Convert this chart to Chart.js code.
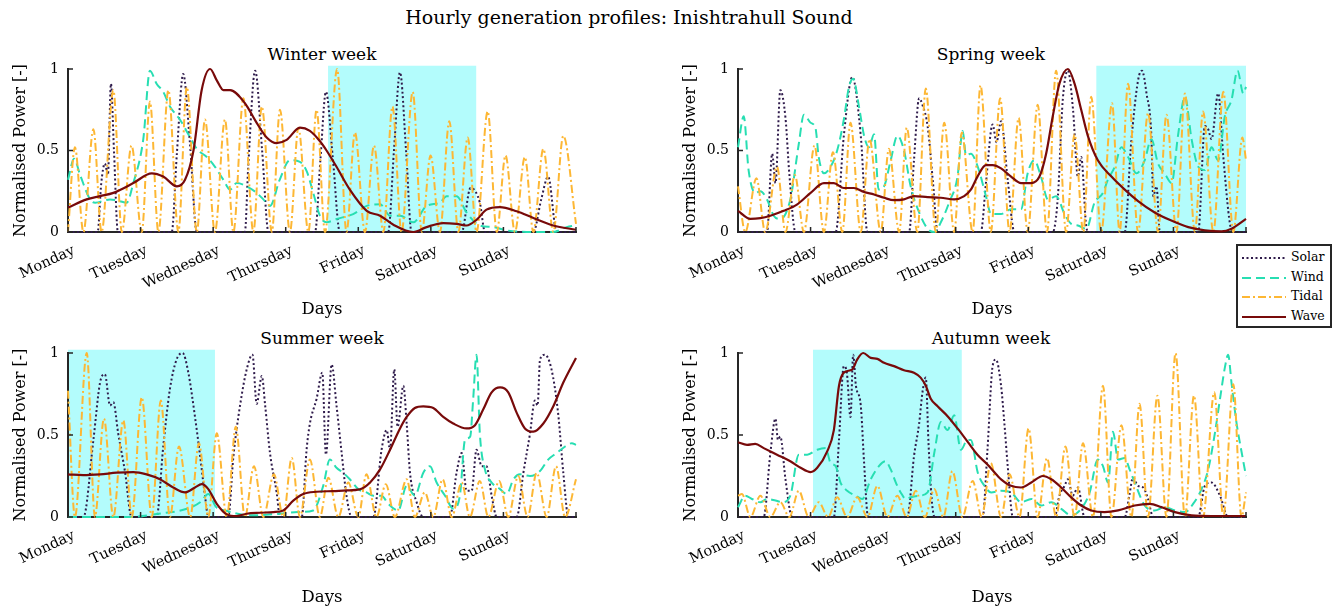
<!DOCTYPE html>
<html>
<head>
<meta charset="utf-8">
<title>Hourly generation profiles: Inishtrahull Sound</title>
<script src="https://cdn.jsdelivr.net/npm/chart.js@4"></script>
<style>
  body { margin: 0; background: #fff; font-family: "DejaVu Serif", serif; color: #000; }
  #page { position: relative; width: 1341px; height: 610px; overflow: hidden; }
  canvas { position: absolute; }
  .title { position: absolute; left: 0; top: 6px; width: 1258px; text-align: center; font-size: 19px; }
  .sub { position: absolute; width: 508px; text-align: center; font-size: 17px; line-height: 22px; }
  #legend { position: absolute; left: 1236px; top: 244px; width: 92px; height: 80px; border: 2px solid #262626; background: #fff; z-index: 5; }
  #legend .row { position: absolute; left: 3px; height: 20px; font-size: 12.5px; line-height: 20px; }
  #legend svg { position: absolute; left: 0; top: 9px; }
  #legend span { position: absolute; left: 50px; top: 0; }
</style>
</head>
<body>
<div id="page">
  <div class="title">Hourly generation profiles: Inishtrahull Sound</div>
  <div class="sub" style="left:68px; top:43px;">Winter week</div>
  <div class="sub" style="left:737px; top:43px;">Spring week</div>
  <div class="sub" style="left:68px; top:327px;">Summer week</div>
  <div class="sub" style="left:737px; top:327px;">Autumn week</div>
  <canvas id="winterChart" width="600" height="290" style="left:0; top:40px;"></canvas>
  <canvas id="springChart" width="600" height="290" style="left:670px; top:40px;"></canvas>
  <canvas id="summerChart" width="600" height="285" style="left:0; top:325px;"></canvas>
  <canvas id="autumnChart" width="600" height="285" style="left:670px; top:325px;"></canvas>
  <div id="legend"></div>
</div>
<script>
const dayNames = ['Monday', 'Tuesday', 'Wednesday', 'Thursday', 'Friday', 'Saturday', 'Sunday'];
const seriesNames = ['Solar', 'Wind', 'Tidal', 'Wave'];

// [hour of week, normalised power]
const winterSolar = [[0,0],[9.8,0],[11,0.3],[12.2,0.42],[13.2,0.35],[14.2,0.91],[15.2,0.5],[16.5,0],[34.3,0],[36,0.48],[38.1,0.97],[40.3,0.55],[42.6,0],[58.5,0],[59.6,0.4],[61.9,0.99],[64.2,0.5],[66.3,0],[81.7,0],[83.5,0.45],[85.3,0.86],[87.6,0.45],[89.9,0],[105.9,0],[107.8,0.5],[109.8,0.98],[111.8,0.5],[113.6,0],[130.2,0],[133.1,0.27],[136.2,0.18],[137.9,0],[153.9,0],[156.5,0.2],[158.8,0.34],[161.6,0],[168,0]];
const winterWind = [[0,0.32],[2,0.45],[4,0.35],[7.3,0.2],[9,0.18],[13.9,0.2],[17,0.19],[19.4,0.18],[21.6,0.3],[24.9,0.57],[27.1,0.99],[29.3,0.91],[31.5,0.86],[33.7,0.77],[37,0.69],[39.8,0.6],[42.6,0.51],[45.9,0.46],[48.6,0.4],[51.4,0.32],[53.6,0.26],[55.8,0.3],[59.1,0.28],[62.4,0.24],[64.6,0.2],[66.8,0.16],[70,0.32],[73.4,0.44],[76.7,0.43],[79,0.37],[81.1,0.24],[83.3,0.1],[85.5,0.06],[88.8,0.08],[94.3,0.11],[98.8,0.16],[103.2,0.17],[106.5,0.1],[109.8,0.1],[114.2,0.06],[118.6,0.16],[123,0.18],[125.2,0.22],[128.5,0.22],[131.8,0.12],[136.2,0.04],[140.6,0.03],[145,0.01],[153.9,0],[160.5,0],[164.9,0.03],[168,0.04]];
const winterTidal = [[0,0],[2.3,0.52],[5.1,0],[8.4,0.63],[11.1,0],[15,0.87],[17.8,0],[21,0.53],[24.4,0],[27.1,0.8],[29.9,0],[33.2,0.87],[36.5,0],[39.3,0.89],[42.6,0],[45.3,0.69],[48.6,0],[51.9,0.69],[54.7,0],[58,0.82],[61.3,0],[64.1,0.77],[67.4,0],[70.1,0.75],[73.4,0],[76.2,0.64],[79.5,0],[82.2,0.75],[85,0],[89,1.0],[92.1,0],[94.9,0.61],[98.2,0],[101.2,0.53],[104.3,0],[107.3,0.77],[110.3,0],[114,0.86],[117,0],[119.9,0.47],[123,0],[126.1,0.68],[129.1,0],[132.2,0.58],[135.1,0],[138.8,0.74],[141.8,0],[144.7,0.47],[147.8,0],[151.1,0.46],[153.9,0],[157.2,0.51],[160.5,0],[163.8,0.59],[168,0.05]];
const winterWave = [[0,0.15],[6.2,0.2],[10.6,0.22],[15,0.24],[21.6,0.3],[27.7,0.36],[31.5,0.34],[36,0.28],[38.7,0.32],[41.5,0.5],[44.2,0.87],[47,1.0],[49.2,0.93],[51.4,0.87],[53.6,0.87],[58.5,0.79],[62.4,0.67],[65.7,0.58],[69,0.545],[72.3,0.565],[76.7,0.64],[80,0.62],[83.4,0.555],[85.5,0.5],[88.8,0.4],[93.2,0.26],[98.8,0.13],[103.2,0.1],[107.6,0.045],[114.2,0],[118.6,0.03],[124.1,0.055],[128.5,0.05],[131.8,0.04],[135.1,0.075],[138.4,0.137],[142.8,0.153],[148.4,0.127],[153.9,0.086],[160.5,0.04],[168,0.014]];

const springSolar = [[0,0],[9.6,0],[11.3,0.48],[12.4,0.3],[14,0.87],[15.7,0.7],[17,0.35],[19,0],[32.3,0],[35,0.59],[37.8,0.95],[40.6,0.59],[42.8,0],[56.6,0],[58.2,0.44],[59.9,0.82],[61,0.78],[62.7,0.65],[64.5,0.3],[66,0],[80.3,0],[82,0.3],[84.2,0.66],[85.5,0.55],[87,0.68],[89.2,0.32],[91.4,0],[104.1,0],[105.8,0.22],[107.4,0.81],[109.1,0.99],[110.8,0.75],[112.4,0.34],[113.5,0.46],[115.2,0.03],[116,0],[127.9,0],[130,0.54],[132.3,0.93],[133.6,0.99],[135.1,0.85],[136.7,0.59],[137.3,0.22],[138.4,0.28],[139.5,0],[152.2,0],[154.4,0.65],[155.5,0.63],[156.6,0.57],[158.8,0.85],[160.5,0.46],[162.7,0.05],[164,0],[168,0]];
const springWind = [[0,0.52],[1.9,0.71],[3.5,0.38],[5.7,0.24],[7.4,0.25],[9.6,0.2],[11.8,0.1],[14,0.08],[17.3,0.2],[20.1,0.54],[21.8,0.72],[24,0.67],[25.6,0.64],[26.7,0.46],[28.4,0.36],[30.6,0.4],[32.8,0.5],[35,0.69],[36.7,0.89],[38.1,0.94],[40,0.77],[41.7,0.59],[43.3,0.52],[45,0.6],[46.5,0.26],[48.3,0.28],[50.5,0.44],[52.7,0.59],[54.9,0.5],[57.1,0.28],[59.9,0.12],[62.7,0.02],[64.9,0],[67.6,0.08],[69.8,0.18],[72.6,0.34],[74.3,0.62],[75.4,0.47],[77,0.48],[79.3,0.4],[82,0.22],[83.7,0.11],[87,0.11],[90.3,0.14],[93.6,0.14],[95.8,0.36],[98,0.44],[100.2,0.34],[102.5,0.2],[105.2,0.22],[108,0.11],[110.2,0.05],[112.4,0.04],[115.2,0.02],[117.9,0.18],[120.7,0.24],[122.3,0.32],[124.6,0.4],[126.8,0.52],[129,0.46],[131.8,0.36],[134.5,0.44],[136.7,0.57],[138.9,0.42],[141.1,0.36],[143.4,0.3],[145.5,0.59],[147.8,0.83],[150,0.57],[152.2,0.4],[154.4,0.38],[156.6,0.52],[158.8,0.44],[161,0.71],[163.2,0.81],[165.2,0.99],[167.1,0.85],[168,0.89]];
const springTidal = [[0,0.28],[2.4,0],[6.1,0.33],[9,0],[12.9,0.4],[15.7,0],[18.8,0.35],[21.8,0],[25.3,0.53],[28.4,0],[31.4,0.49],[34.5,0],[37.2,0.67],[40.6,0],[43.5,0.57],[47.2,0],[49.9,0.51],[53.3,0],[55.8,0.64],[59.3,0],[62.1,0.88],[65.4,0],[68.2,0.67],[71.5,0],[74,0.61],[77.6,0],[80.2,0.9],[83.6,0],[86.7,0.82],[89.8,0],[92.8,0.7],[95.8,0],[99.1,0.78],[102.2,0],[105.2,0.99],[108.5,0],[111.3,0.6],[114.2,0],[116.8,0.83],[120.1,0],[123.7,0.79],[126.2,0],[129,0.91],[132.3,0],[135.6,0.73],[138.9,0],[141.7,0.72],[145,0],[147.8,0.85],[151.1,0],[153.8,0.74],[157.2,0],[160.5,0.86],[163.8,0],[166.8,0.58],[168,0.44]];
const springWave = [[0,0.13],[4.1,0.08],[7.4,0.085],[10.7,0.1],[15.1,0.13],[19.6,0.17],[24,0.24],[28.4,0.3],[31.7,0.3],[35,0.27],[38.3,0.27],[41.7,0.245],[45,0.23],[48.3,0.21],[51.6,0.195],[54.9,0.2],[58.2,0.22],[62.7,0.214],[67.1,0.21],[71.5,0.2],[74.8,0.22],[77,0.26],[79.2,0.34],[82,0.41],[84.2,0.41],[87,0.39],[90.3,0.34],[93.6,0.3],[96.9,0.3],[99.7,0.34],[101.9,0.48],[104.1,0.71],[106.3,0.91],[109.1,1.0],[111.3,0.91],[113.5,0.75],[115.7,0.59],[119,0.44],[123.5,0.34],[127.9,0.26],[132.3,0.19],[137.8,0.12],[143.3,0.07],[148.9,0.03],[154.4,0.01],[159.9,0.004],[163.2,0.02],[168,0.08]];

const summerSolar = [[0,0],[5.1,0],[8.4,0.47],[10.6,0.82],[12.2,0.87],[13.9,0.68],[15,0.7],[16.6,0.51],[18.9,0.27],[21,0],[29.3,0],[31.5,0.43],[33.7,0.78],[35.9,0.96],[37.9,1.0],[39.8,0.88],[42,0.61],[43.7,0.37],[45.3,0.13],[46.4,0],[53,0],[54.7,0.37],[56.9,0.68],[59.1,0.9],[61,0.99],[62.4,0.69],[64.1,0.86],[65.2,0.68],[66.8,0.39],[69,0.15],[70.1,0],[77.3,0],[78.9,0.41],[80,0.57],[82.2,0.72],[84.1,0.88],[85.3,0.38],[87.2,0.93],[88.8,0.68],[90.5,0.39],[92.1,0.13],[93.8,0],[101,0],[103.7,0.41],[105.4,0.53],[106.5,0.41],[107.9,0.9],[109,0.55],[110.9,0.8],[112,0.57],[113.1,0.27],[115.3,0.09],[117.5,0],[126.3,0],[128.5,0.27],[130.2,0.39],[131.8,0.16],[133.5,0.16],[135.1,0.41],[136.8,0.31],[138.4,0.31],[140.1,0.13],[141.8,0],[148.4,0],[150.6,0.27],[152.8,0.51],[154.4,0.71],[155.3,0.68],[156.1,0.96],[157.7,0.99],[159.9,0.9],[162.1,0.63],[163.8,0.27],[165.5,0],[168,0]];
const summerWind = [[0,0],[20,0],[30,0.02],[39.3,0.05],[43.7,0.09],[46.4,0.14],[49,0.06],[52,0.04],[60,0.01],[70,0.02],[76,0.03],[81.1,0.04],[84.4,0.19],[86.6,0.35],[88.8,0.3],[91,0.27],[93.2,0.23],[96,0.17],[98.7,0.15],[101,0.13],[103.7,0.13],[105.9,0.08],[109.2,0.04],[112,0.19],[114.7,0.13],[117.5,0.27],[119.7,0.31],[121.9,0.21],[124.7,0.13],[127.4,0.05],[129.6,0.13],[131.3,0.47],[133,0.49],[134,0.72],[135.1,0.99],[136.2,0.51],[137.9,0.29],[140.1,0.21],[142.9,0.17],[145.1,0.14],[147.3,0.23],[149.5,0.26],[152.8,0.25],[156.1,0.28],[158.8,0.35],[161.6,0.39],[164.4,0.43],[166.6,0.45],[168,0.44]];
const summerTidal = [[0,0.77],[2.3,0],[6.2,1.0],[8.9,0],[11.9,0.6],[15,0],[18.3,0.59],[21.1,0],[24.4,0.73],[27.7,0],[30.7,0.71],[33.7,0],[36.7,0.43],[40.4,0],[43.3,0.45],[46.4,0],[49.2,0.51],[52.5,0],[55.5,0.55],[58.5,0],[61.5,0.31],[64.6,0],[68.1,0.26],[71.2,0],[74,0.36],[76.7,0],[80,0.35],[83.3,0],[86.1,0.24],[89.4,0],[92.7,0.21],[96,0],[98.7,0.26],[102,0],[105.1,0.2],[108.1,0],[112,0.23],[114.7,0],[118,0.15],[120.8,0],[123.9,0.23],[126.9,0],[130.2,0.21],[132.9,0],[136.2,0.22],[139,0],[142.6,0.22],[145.6,0],[148.9,0.25],[152,0],[155,0.27],[158.3,0],[161.4,0.31],[164.4,0],[168,0.23]];
const summerWave = [[0,0.26],[5,0.255],[10.6,0.26],[16.1,0.27],[21.6,0.274],[26,0.26],[30.4,0.23],[34.8,0.18],[38.7,0.15],[42,0.18],[44.2,0.2],[46.4,0.17],[49.2,0.08],[52.5,0.016],[55.8,0.006],[59.1,0.02],[63.5,0.026],[67.9,0.03],[71.2,0.04],[74.5,0.1],[77.8,0.14],[82.2,0.154],[87.7,0.158],[92.1,0.162],[96.5,0.168],[99.9,0.21],[103.2,0.29],[106.5,0.41],[109.8,0.54],[112,0.61],[114.7,0.665],[117.5,0.675],[120.8,0.665],[124.1,0.61],[127.4,0.57],[131.8,0.54],[134.6,0.56],[137.3,0.655],[140.1,0.76],[142.9,0.79],[145.6,0.76],[148.4,0.635],[151.1,0.54],[153.9,0.52],[157.2,0.57],[160.5,0.675],[163.8,0.82],[168,0.97]];

const autumnSolar = [[0,0],[8.5,0],[10.7,0.39],[12.4,0.6],[13.2,0.47],[14,0.49],[15.7,0.23],[17.9,0],[31.7,0],[33.4,0.47],[35,0.92],[36,0.88],[37.2,0.61],[38.1,0.99],[39,0.8],[40.6,0.68],[41.7,0.33],[43,0],[56,0],[58.2,0.37],[59.9,0.57],[61,0.76],[62.1,0.85],[63,0.45],[64,0.12],[65,0],[80.9,0],[82.5,0.41],[84.2,0.92],[85.3,0.96],[87,0.8],[88.1,0.57],[89.2,0.31],[90.9,0],[104.7,0],[106.3,0.13],[108,0.19],[109.1,0.23],[110.7,0.13],[112.4,0.18],[114.6,0],[127.9,0],[129.5,0.14],[130.6,0.24],[132.3,0.19],[134,0.18],[135.6,0.11],[137.3,0],[152.2,0],[154.4,0.19],[156.6,0.21],[159.4,0.13],[162.1,0],[168,0]];
const autumnWind = [[0,0.06],[2.4,0.13],[4.6,0.11],[7.4,0.09],[9.6,0.11],[12.4,0.1],[14.6,0.09],[17.3,0.13],[20.1,0.38],[22.9,0.38],[26.2,0.41],[29,0.42],[30.6,0.33],[32.3,0.31],[33.9,0.21],[36.1,0.16],[38.9,0.13],[41.1,0.11],[43.9,0.23],[46.6,0.31],[48.8,0.34],[50.5,0.29],[52.2,0.21],[53.8,0.15],[55.5,0.11],[57.1,0.12],[59.9,0.13],[62.7,0.15],[64.9,0.39],[67.1,0.58],[69.3,0.53],[71.5,0.62],[73.7,0.41],[75.9,0.47],[77,0.47],[79.3,0.27],[81.5,0.19],[83.7,0.15],[87,0.16],[90.3,0.15],[93.6,0.09],[97,0.11],[100.3,0.07],[103.6,0.09],[106.9,0.05],[110.2,0.01],[113.5,0.05],[116.3,0.15],[119,0.35],[120.7,0.31],[122.4,0.21],[124,0.52],[125.7,0.35],[127.9,0.36],[129.5,0.29],[131.2,0.21],[134.5,0.07],[137.8,0.04],[141.1,0.06],[144.5,0.04],[147.8,0.03],[150.5,0.08],[153.3,0.17],[155.5,0.29],[157.7,0.51],[159.4,0.72],[161.1,0.92],[162.1,0.99],[163.2,0.82],[164.9,0.57],[166.6,0.39],[168,0.25]];
const autumnTidal = [[0,0.13],[1.3,0.14],[4.1,0],[7.4,0.13],[10.7,0],[14,0.09],[17,0],[20.1,0.16],[23.4,0],[26.7,0.09],[29.8,0],[32.8,0.12],[36.1,0],[39.4,0.12],[42.8,0],[46.1,0.19],[49.4,0],[52.7,0.13],[55.8,0],[58.8,0.16],[61.8,0],[64.9,0.17],[67.9,0],[70.9,0.28],[74.2,0],[77.6,0.22],[80.6,0],[83.6,0.33],[87,0],[89.8,0.26],[93.1,0],[96.1,0.54],[99.1,0],[102.2,0.36],[105.2,0],[108.3,0.43],[111.3,0],[114.1,0.45],[117.4,0],[120.7,0.8],[123.5,0],[126.8,0.56],[130.1,0],[132.8,0.69],[135.6,0],[138.7,0.74],[141.7,0],[144.7,1.0],[147.8,0],[150.8,0.74],[153.8,0],[157.5,0.76],[160.5,0],[163.8,0.81],[166.5,0],[168,0.15]];
const autumnWave = [[0,0.456],[3,0.44],[5.7,0.446],[8.5,0.42],[12.9,0.38],[17.3,0.34],[20.7,0.3],[24,0.274],[26.2,0.3],[29.5,0.4],[31.7,0.53],[33.4,0.8],[35,0.88],[37.8,0.9],[39.4,0.96],[41.4,1.0],[43.9,0.97],[46.1,0.964],[48.3,0.94],[51.6,0.92],[54.9,0.895],[58.2,0.88],[60.4,0.85],[62.1,0.8],[63.8,0.72],[66,0.675],[69.3,0.615],[72.6,0.54],[75.9,0.46],[79.2,0.38],[82.5,0.32],[85.9,0.25],[87,0.23],[90.3,0.19],[93.6,0.18],[97,0.21],[100.8,0.25],[103.6,0.23],[106.9,0.18],[110.2,0.12],[113.5,0.07],[116.8,0.04],[121.2,0.03],[125.7,0.04],[131.2,0.07],[136.2,0.08],[140,0.06],[144.5,0.03],[150,0.01],[156.6,0.006],[163.2,0.006],[168,0.006]];

// shaded two-day windows [from hour, to hour]
const winterShade = [86, 135];
const springShade = [118.5, 168];
const summerShade = [0, 48.6];
const autumnShade = [24.8, 74];

const seriesStyles = [
    { color: '#2f1b4b', dash: [2, 2.5], width: 2, order: 4 },
    { color: '#27deb2', dash: [9, 5], width: 2, order: 3 },
    { color: '#fdb734', dash: [8, 3, 2, 3], width: 2, order: 2 },
    { color: '#780a0a', dash: [], width: 2.2, order: 1 }
];

Chart.defaults.font.family = '"DejaVu Serif", serif';
Chart.defaults.color = '#000';

const shadePlugin = {
    id: 'shade',
    beforeDraw(chart, args, opts) {
        const { ctx, scales: { x, y } } = chart;
        const x0 = x.getPixelForValue(opts.range[0]);
        const x1 = x.getPixelForValue(opts.range[1]);
        const y0 = y.getPixelForValue(1.02);
        const y1 = y.getPixelForValue(0);
        ctx.save();
        ctx.fillStyle = '#b3fcfc';
        ctx.fillRect(x0, y0, x1 - x0, y1 - y0);
        ctx.restore();
    }
};

// MATLAB style ticks pointing into the axes
const inTicksPlugin = {
    id: 'inTicks',
    afterDatasetsDraw(chart) {
        const { ctx, chartArea, scales: { x, y } } = chart;
        ctx.save();
        ctx.strokeStyle = '#262626';
        ctx.lineWidth = 1.5;
        ctx.beginPath();
        x.ticks.forEach(t => {
            const px = x.getPixelForValue(t.value);
            ctx.moveTo(px, chartArea.bottom);
            ctx.lineTo(px, chartArea.bottom - 5);
        });
        y.ticks.forEach(t => {
            const py = y.getPixelForValue(t.value);
            ctx.moveTo(chartArea.left, py);
            ctx.lineTo(chartArea.left + 5, py);
        });
        ctx.stroke();
        ctx.restore();
    }
};

function createWeekChart(canvasId, series, shade, xAxisHeight, topPad, daysPad) {
    const ctx = document.getElementById(canvasId).getContext('2d');
    return new Chart(ctx, {
        type: 'line',
        data: {
            datasets: series.map((points, i) => ({
                label: seriesNames[i],
                data: points.map(p => ({ x: p[0], y: p[1] })),
                borderColor: seriesStyles[i].color,
                borderWidth: seriesStyles[i].width,
                borderDash: seriesStyles[i].dash,
                order: seriesStyles[i].order,
                pointRadius: 0,
                cubicInterpolationMode: 'monotone',
                fill: false,
                clip: 6
            }))
        },
        options: {
            responsive: false,
            animation: false,
            events: [],
            layout: { autoPadding: false, padding: { top: topPad, left: 0, right: 24, bottom: 0 } },
            plugins: {
                legend: { display: false },
                tooltip: { enabled: false },
                shade: { range: shade }
            },
            scales: {
                x: {
                    type: 'linear',
                    min: 0,
                    max: 168,
                    grid: { display: false, drawTicks: false },
                    border: { color: '#262626', width: 2 },
                    ticks: {
                        stepSize: 24,
                        autoSkip: false,
                        minRotation: 25,
                        maxRotation: 25,
                        padding: 10,
                        labelOffset: 6,
                        font: { size: 14.5 },
                        callback: v => dayNames[v / 24] || ''
                    },
                    title: { display: true, text: 'Days', font: { size: 16.5 }, padding: { top: 0, bottom: daysPad } },
                    afterFit: scale => { scale.height = xAxisHeight; }
                },
                y: {
                    min: 0,
                    max: 1,
                    grid: { display: false, drawTicks: false },
                    border: { color: '#262626', width: 2 },
                    ticks: { stepSize: 0.5, padding: 9, font: { size: 14 }, callback: v => String(v) },
                    title: { display: true, text: 'Normalised Power [-]', font: { size: 16 }, padding: { top: 11, bottom: 0 } },
                    afterFit: scale => { scale.width = 68; }
                }
            }
        },
        plugins: [shadePlugin, inTicksPlugin]
    });
}

function buildLegend() {
    const legend = document.getElementById('legend');
    seriesNames.forEach((name, i) => {
        const row = document.createElement('div');
        row.className = 'row';
        row.style.top = (1 + i * 19.5) + 'px';
        const s = seriesStyles[i];
        row.innerHTML = '<svg width="46" height="4"><line x1="1" y1="2" x2="45" y2="2" stroke="' + s.color +
            '" stroke-width="' + s.width + '" stroke-dasharray="' + (s.dash.length ? s.dash.join(' ') : 'none') +
            '"/></svg><span>' + name + '</span>';
        legend.appendChild(row);
    });
}

createWeekChart('winterChart', [winterSolar, winterWind, winterTidal, winterWave], winterShade, 98, 29, 10);
createWeekChart('springChart', [springSolar, springWind, springTidal, springWave], springShade, 98, 29, 10);
createWeekChart('summerChart', [summerSolar, summerWind, summerTidal, summerWave], summerShade, 93, 28, 2);
createWeekChart('autumnChart', [autumnSolar, autumnWind, autumnTidal, autumnWave], autumnShade, 93, 28, 2);
buildLegend();
</script>
</body>
</html>
